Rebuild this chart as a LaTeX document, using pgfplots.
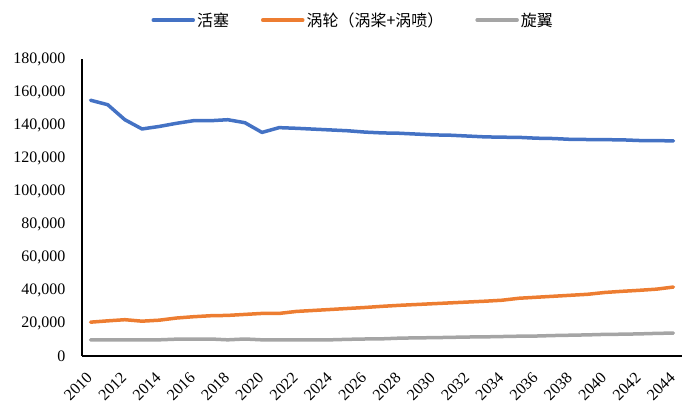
\documentclass[border=0pt]{standalone}
\usepackage{fontspec}
\setmainfont{Liberation Serif}
\newfontfamily\cjk{Noto Sans CJK SC}
\usepackage{pgfplots}
\pgfplotsset{compat=1.18}
\usepackage{pgfplotstable}

\definecolor{cBlue}{HTML}{4472C4}
\definecolor{cOrange}{HTML}{ED7D31}
\definecolor{cGray}{HTML}{A5A5A5}

% year, piston, turbine (turboprop+turbojet), rotorcraft
\pgfplotstableread{
year piston turbo rotor
2010 155000 20500 9800
2011 152300 21300 9800
2012 143200 22000 9800
2013 137600 21100 9800
2014 139100 21700 9800
2015 141000 23000 10200
2016 142600 23800 10300
2017 142600 24400 10300
2018 143200 24600 9800
2019 141400 25200 10300
2020 135500 25800 9800
2021 138400 25800 9800
2022 138000 27000 9800
2023 137500 27600 9800
2024 137000 28200 9800
2025 136500 28800 10100
2026 135700 29400 10300
2027 135200 30100 10400
2028 135000 30700 10800
2029 134500 31200 11000
2030 134000 31700 11100
2031 133800 32200 11300
2032 133300 32700 11500
2033 132800 33200 11600
2034 132600 33800 11800
2035 132500 35000 12000
2036 132000 35600 12100
2037 131800 36200 12400
2038 131300 36800 12600
2039 131200 37400 12800
2040 131100 38500 13100
2041 131000 39200 13200
2042 130600 39800 13400
2043 130500 40500 13700
2044 130400 41800 13900
}\data

\begin{document}
\begin{tikzpicture}
\path[use as bounding box] (0pt,0pt) rectangle (699pt,417pt);
\begin{axis}[
	at={(82pt,61pt)}, anchor=south west,
	scale only axis, width=600pt, height=297pt,
	xmin=2009.5, xmax=2044.5, ymin=0, ymax=180000,
	xtick={2010,2012,...,2044},
	ytick={0,20000,...,180000},
	axis lines=left,
	axis line style={-, line width=1.2pt, black},
	major tick length=0pt,
	scaled y ticks=false,
	/pgf/number format/assume math mode=true,
	x tick label style={xshift=-5pt, yshift=-15pt, rotate=45,
		anchor=north east, inner sep=0pt,
		font=\fontsize{16}{16}\selectfont, /pgf/number format/1000 sep={}},
	y tick label style={xshift=-13pt, font=\fontsize{16}{16}\selectfont,
		/pgf/number format/.cd, fixed, 1000 sep={,}},
	legend columns=3,
	legend style={at={(0.452,1.131)}, anchor=center, draw=none,
		font=\cjk\fontsize{16}{16}\selectfont,
		/tikz/every even column/.append style={column sep=30pt}},
	legend image code/.code={\draw[#1, line cap=round] (0pt,0pt) -- (40pt,0pt);},
	every axis plot/.append style={line width=3.5pt, line join=round, line cap=round},
]
\addplot[cBlue] table[x=year, y=piston] {\data};
\addplot[cOrange] table[x=year, y=turbo] {\data};
\addplot[cGray] table[x=year, y=rotor] {\data};
\legend{活塞, 涡轮（涡桨+涡喷）, 旋翼}
\end{axis}
\end{tikzpicture}
\end{document}
